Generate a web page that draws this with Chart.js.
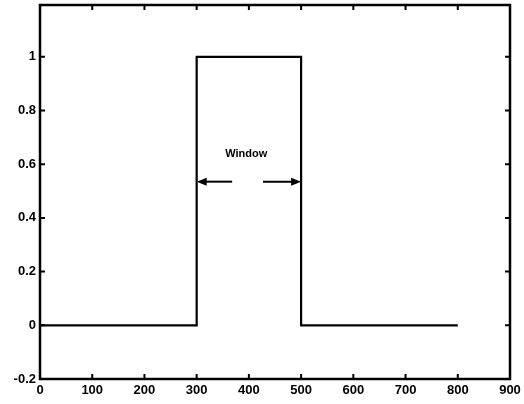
<!DOCTYPE html>
<html>
<head>
<meta charset="utf-8">
<script src="https://cdn.jsdelivr.net/npm/chart.js@4"></script>
<style>
  html, body { margin: 0; padding: 0; background: #fff; }
  #wrap { width: 524px; height: 404px; }
</style>
</head>
<body>
<div id="wrap"><canvas id="chart" width="524" height="404"></canvas></div>
<script>
// pulse data
const pulseX = [0, 300, 300, 500, 500, 800];
const pulseY = [0, 0, 1, 1, 0, 0];

// axis ticks
const xTicks = [0, 100, 200, 300, 400, 500, 600, 700, 800, 900];
const yTicks = [-0.2, 0, 0.2, 0.4, 0.6, 0.8, 1];

// annotation: label and two arrow segments (data units)
const windowLabel = 'Window';
const labelPos = [395, 0.64];
const arrowY = 0.535;
const leftArrow = [368, 300];
const rightArrow = [427, 500];

const tickFont = { family: 'Liberation Sans, Arial, sans-serif', size: 13, weight: 'bold' };

// draws MATLAB style inward ticks on all four sides plus the box
const boxTicks = {
    id: 'boxTicks',
    afterDraw(chart) {
        const { ctx, chartArea: a, scales } = chart;
        const len = 5;
        ctx.save();
        ctx.strokeStyle = '#000';
        ctx.lineWidth = 2;
        ctx.beginPath();
        xTicks.forEach(v => {
            const px = scales.x.getPixelForValue(v);
            ctx.moveTo(px, a.bottom); ctx.lineTo(px, a.bottom - len);
            ctx.moveTo(px, a.top); ctx.lineTo(px, a.top + len);
        });
        yTicks.forEach(v => {
            const py = scales.y.getPixelForValue(v);
            ctx.moveTo(a.left, py); ctx.lineTo(a.left + len, py);
            ctx.moveTo(a.right, py); ctx.lineTo(a.right - len, py);
        });
        ctx.stroke();
        ctx.lineWidth = 2.5;
        ctx.strokeRect(a.left, a.top, a.right - a.left, a.bottom - a.top);

        // annotation
        const sx = scales.x, sy = scales.y;
        ctx.fillStyle = '#000';
        ctx.font = 'bold 11px Liberation Sans, Arial, sans-serif';
        ctx.textAlign = 'center';
        ctx.textBaseline = 'middle';
        ctx.fillText(windowLabel, sx.getPixelForValue(labelPos[0]), sy.getPixelForValue(labelPos[1]));

        const ay = sy.getPixelForValue(arrowY);
        [leftArrow, rightArrow].forEach(seg => {
            const x0 = sx.getPixelForValue(seg[0]);
            const x1 = sx.getPixelForValue(seg[1]);
            const dir = Math.sign(x1 - x0);
            ctx.lineWidth = 2;
            ctx.beginPath();
            ctx.moveTo(x0, ay); ctx.lineTo(x1 - dir * 6, ay);
            ctx.stroke();
            ctx.beginPath();
            ctx.moveTo(x1, ay);
            ctx.lineTo(x1 - dir * 10, ay - 4);
            ctx.lineTo(x1 - dir * 10, ay + 4);
            ctx.closePath();
            ctx.fill();
        });
        ctx.restore();
    }
};

new Chart(document.getElementById('chart'), {
    type: 'line',
    data: {
        datasets: [{
            data: pulseX.map((x, i) => ({ x: x, y: pulseY[i] })),
            borderColor: '#000',
            borderWidth: 2.2,
            pointRadius: 0,
            tension: 0,
            fill: false
        }]
    },
    options: {
        responsive: false,
        animation: false,
        layout: { padding: { top: 5, right: 14, left: 0, bottom: 0 } },
        plugins: { legend: { display: false }, tooltip: { enabled: false } },
        scales: {
            x: {
                type: 'linear',
                min: 0,
                max: 900,
                afterBuildTicks: s => { s.ticks = xTicks.map(v => ({ value: v })); },
                afterFit: s => { s.height = 25; s.paddingLeft = 0; s.paddingRight = 0; },
                grid: { display: false, drawTicks: false },
                border: { display: false },
                ticks: { color: '#000', font: tickFont, padding: 4, maxRotation: 0, autoSkip: false }
            },
            y: {
                min: -0.2,
                max: 1.193,
                afterBuildTicks: s => { s.ticks = yTicks.map(v => ({ value: v })); },
                afterFit: s => { s.width = 40; s.paddingTop = 0; s.paddingBottom = 0; },
                grid: { display: false, drawTicks: false },
                border: { display: false },
                ticks: { color: '#000', font: tickFont, padding: 4, autoSkip: false,
                         callback: v => String(Math.round(v * 10) / 10) }
            }
        }
    },
    plugins: [boxTicks]
});
</script>
</body>
</html>
